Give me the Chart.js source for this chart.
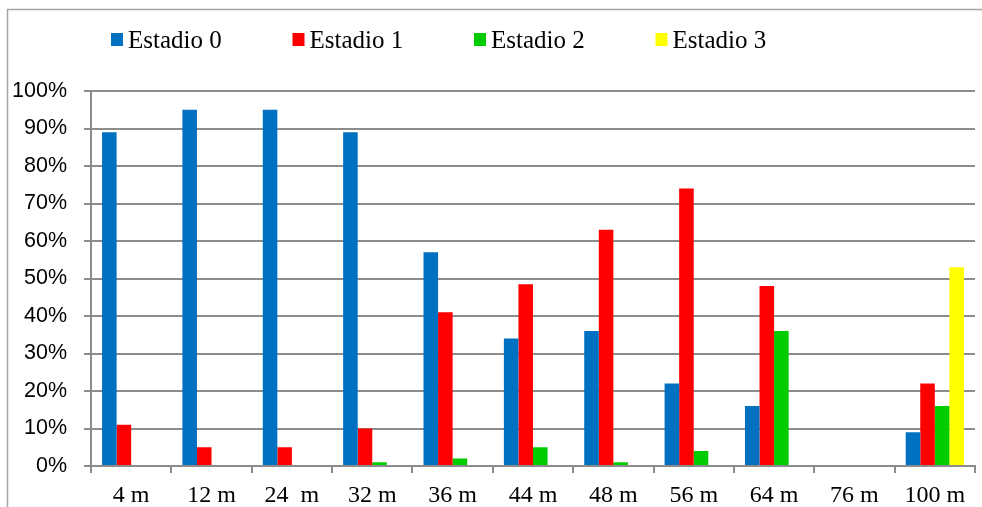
<!DOCTYPE html>
<html>
<head>
<meta charset="utf-8">
<script src="https://cdn.jsdelivr.net/npm/chart.js@4/dist/chart.umd.min.js"></script>
<style>
  html, body { margin: 0; padding: 0; background: #fff; }
  #wrap { width: 982px; height: 507px; position: relative; }
  canvas { display: block; }
</style>
</head>
<body>
<div id="wrap"><canvas id="c" width="982" height="507"></canvas></div>
<script>
// Categories (distance) and share of each stage per distance
const categories = ['4 m', '12 m', '24  m', '32 m', '36 m', '44 m', '48 m', '56 m', '64 m', '76 m', '100 m'];
const seriesNames = ['Estadio 0', 'Estadio 1', 'Estadio 2', 'Estadio 3'];
const estadio0 = [89, 95, 95, 89, 57, 34, 36, 22, 16, 0, 9];
const estadio1 = [11, 5, 5, 10, 41, 48.5, 63, 74, 48, 0, 22];
const estadio2 = [0, 0, 0, 1, 2, 5, 1, 4, 36, 0, 16];
const estadio3 = [0, 0, 0, 0, 0, 0, 0, 0, 0, 0, 53];
const yTicks = [0, 10, 20, 30, 40, 50, 60, 70, 80, 90, 100];

const colors = ['#0070C0', '#FF0000', '#00CC00', '#FFFF00'];
const values = [estadio0, estadio1, estadio2, estadio3];
const gridColor = '#8c8c8c';

// Outer frame (left and top edges) drawn on the canvas
const framePlugin = {
  id: 'frame',
  beforeDraw(chart) {
    const ctx = chart.ctx;
    ctx.save();
    ctx.strokeStyle = '#a6a6a6';
    ctx.lineWidth = 1.5;
    ctx.beginPath();
    ctx.moveTo(7.5, chart.height);
    ctx.lineTo(7.5, 9.5);
    ctx.lineTo(chart.width, 9.5);
    ctx.stroke();
    ctx.restore();
  }
};

// Legend row along the top
const legendPlugin = {
  id: 'topLegend',
  afterDraw(chart) {
    const ctx = chart.ctx;
    ctx.save();
    ctx.font = '25px "Liberation Serif", "Times New Roman", serif';
    ctx.textBaseline = 'middle';
    const startX = 111, stepX = 181.5, y = 40;
    chart.data.datasets.forEach((ds, i) => {
      const x = startX + i * stepX;
      ctx.fillStyle = ds.backgroundColor;
      ctx.fillRect(x, y - 7, 12, 13);
      ctx.fillStyle = '#000';
      ctx.fillText(ds.label, x + 17, y + 1);
    });
    ctx.restore();
  }
};

new Chart(document.getElementById('c'), {
  type: 'bar',
  data: {
    labels: categories,
    datasets: seriesNames.map((name, i) => ({
      label: name,
      data: values[i],
      backgroundColor: colors[i],
      borderWidth: 0,
      categoryPercentage: 0.725,
      barPercentage: 1.0
    }))
  },
  options: {
    responsive: false,
    animation: false,
    layout: { padding: { top: 91, right: 7, left: 0, bottom: 0 } },
    plugins: {
      legend: { display: false },
      tooltip: { enabled: false }
    },
    scales: {
      x: {
        offset: true,
        grid: {
          offset: true,
          drawOnChartArea: false,
          drawTicks: true,
          tickLength: 7,
          color: gridColor,
          lineWidth: 2
        },
        border: { color: gridColor, width: 2 },
        ticks: {
          color: '#000',
          padding: 8,
          maxRotation: 0,
          autoSkip: false,
          font: { family: '"Liberation Serif", "Times New Roman", serif', size: 24 }
        },
        afterFit(scale) { scale.height = 41; }
      },
      y: {
        min: 0,
        max: 100,
        afterBuildTicks(scale) { scale.ticks = yTicks.map(v => ({ value: v })); },
        grid: {
          color: gridColor,
          lineWidth: 2,
          tickLength: 7
        },
        border: { color: gridColor, width: 2 },
        ticks: {
          color: '#000',
          padding: 17,
          callback: v => v + '%',
          font: { family: '"Liberation Sans", Arial, sans-serif', size: 21.5 }
        },
        afterFit(scale) { scale.width = 91; }
      }
    }
  },
  plugins: [framePlugin, legendPlugin]
});
</script>
</body>
</html>
